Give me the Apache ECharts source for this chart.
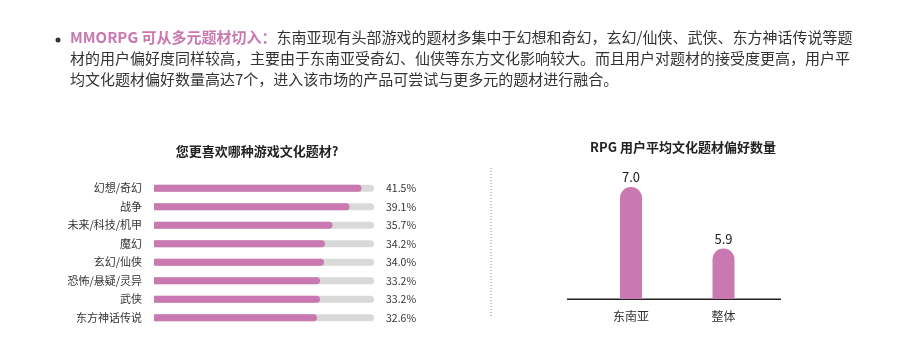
<!DOCTYPE html>
<html><head><meta charset="utf-8">
<script src="https://cdn.jsdelivr.net/npm/echarts@6/dist/echarts.min.js"></script>
<style>html,body{margin:0;padding:0;background:#fff}#c{width:899px;height:357px}</style>
</head><body><div id="c"></div>
<script>
const genreCategories = ['幻想/奇幻','战争','未来/科技/机甲','魔幻','玄幻/仙侠','恐怖/悬疑/灵异','武侠','东方神话传说'];
const genreValues = [41.5, 39.1, 35.7, 34.2, 34.0, 33.2, 33.2, 32.6];
const genreLabels = ['41.5%','39.1%','35.7%','34.2%','34.0%','33.2%','33.2%','32.6%'];
const regionCategories = ['东南亚','整体'];
const regionValues = [7.0, 5.9];
const regionLabels = ['7.0','5.9'];
const leftTitle = '您更喜欢哪种游戏文化题材?';
const rightTitle = 'RPG 用户平均文化题材偏好数量';
const paraHead = 'MMORPG 可从多元题材切入：';
const paraLines = [
  '东南亚现有头部游戏的题材多集中于幻想和奇幻，玄幻/仙侠、武侠、东方神话传说等题',
  '材的用户偏好度同样较高，主要由于东南亚受奇幻、仙侠等东方文化影响较大。而且用户对题材的接受度更高，用户平',
  '均文化题材偏好数量高达7个，进入该市场的产品可尝试与更多元的题材进行融合。'
];

const PINK = '#c978b1';
const FONT = '"Noto Sans CJK SC","Noto Sans",sans-serif';
const chart = echarts.init(document.getElementById('c'));
chart.setOption({
  animation: false,
  textStyle: { fontFamily: FONT },
  title: [
    { text: leftTitle, left: 252, top: 140, textAlign: 'center',
      textStyle: { fontSize: 13, fontWeight: 'bold', color: '#222', fontFamily: FONT } },
    { text: rightTitle, left: 678, top: 136, textAlign: 'center',
      textStyle: { fontSize: 13, fontWeight: 'bold', color: '#222', fontFamily: FONT } }
  ],
  grid: [
    { left: 154, width: 220, top: 179, height: 148 },
    { left: 584.75, width: 185, top: 159, height: 140 }
  ],
  xAxis: [
    { gridIndex: 0, type: 'value', min: 0, max: 44, show: false },
    { gridIndex: 1, type: 'category', data: regionCategories,
      axisLine: { show: false }, axisTick: { show: false },
      axisLabel: { fontSize: 12, color: '#333', margin: 11, fontFamily: FONT } }
  ],
  yAxis: [
    { gridIndex: 0, type: 'category', data: genreCategories, inverse: true,
      axisLine: { show: false }, axisTick: { show: false },
      axisLabel: { fontSize: 11, color: '#333', margin: 12, fontFamily: FONT } },
    { gridIndex: 0, type: 'category', data: genreLabels, inverse: true, position: 'right',
      axisLine: { show: false }, axisTick: { show: false },
      axisLabel: { fontSize: 10.5, color: '#333', margin: 12, fontFamily: FONT } },
    { gridIndex: 1, type: 'value', min: 5, max: 7.5, show: false }
  ],
  series: [
    { type: 'bar', xAxisIndex: 0, yAxisIndex: 0, data: genreValues, barWidth: 7,
      itemStyle: { color: PINK, borderRadius: [0, 3.5, 3.5, 0] },
      showBackground: true,
      backgroundStyle: { color: '#d9d9d9', borderRadius: 3.5 } },
    { type: 'bar', xAxisIndex: 1, yAxisIndex: 2, data: regionValues, barWidth: 22,
      itemStyle: { color: PINK, borderRadius: [11, 11, 0, 0] },
      label: { show: true, position: 'top', distance: 3, fontSize: 13, color: '#222',
        fontFamily: FONT, formatter: p => regionLabels[p.dataIndex] } }
  ],
  graphic: [
    { type: 'line', shape: { x1: 567, y1: 299.3, x2: 781, y2: 299.3 },
      style: { stroke: '#222', lineWidth: 1.6 } },
    { type: 'line', shape: { x1: 491, y1: 168, x2: 491, y2: 316 },
      style: { stroke: '#888', lineWidth: 1, lineDash: [1, 2] } },
    { type: 'circle', shape: { cx: 58, cy: 40, r: 2.5 }, style: { fill: '#333' } },
    { type: 'text', left: 70, top: 30,
      style: { text: '{h|' + paraHead + '}{n|' + paraLines[0] + '}',
        rich: {
          h: { fontSize: 15, fontWeight: 'bold', fill: PINK, fontFamily: FONT },
          n: { fontSize: 15, fill: '#333', fontFamily: FONT }
        } } },
    { type: 'text', left: 70, top: 51,
      style: { text: paraLines[1], fontSize: 15, fill: '#333', fontFamily: FONT } },
    { type: 'text', left: 70, top: 72,
      style: { text: paraLines[2], fontSize: 15, fill: '#333', fontFamily: FONT } }
  ]
});
</script></body></html>
